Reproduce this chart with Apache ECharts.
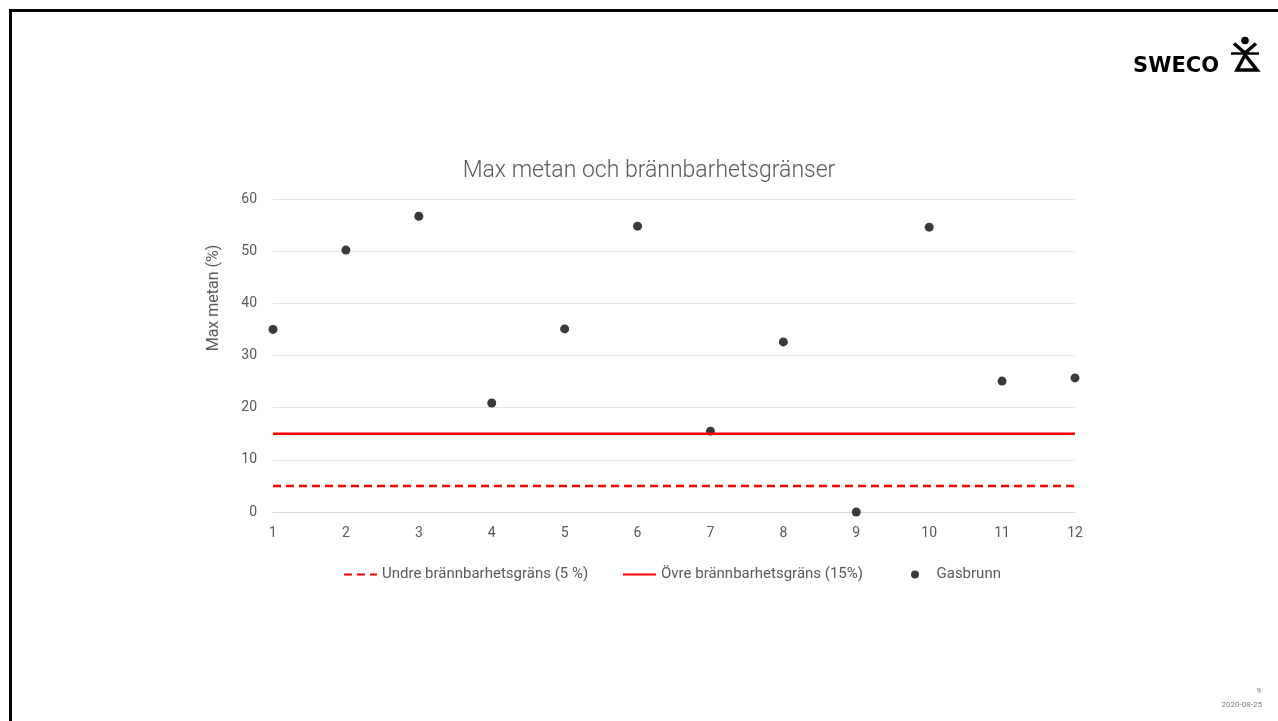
<!DOCTYPE html>
<html>
<head>
<meta charset="utf-8">
<script src="https://cdn.jsdelivr.net/npm/echarts@6/dist/echarts.min.js"></script>
<style>
html,body{margin:0;padding:0;background:#fff;}
#c{width:1278px;height:721px;}
</style>
</head>
<body>
<div id="c"></div>
<script>
const categories = [1,2,3,4,5,6,7,8,9,10,11,12];
const gasbrunn = [35, 50.2, 56.7, 20.9, 35.1, 54.8, 15.5, 32.6, 0, 54.6, 25.1, 25.7];
const undreGrans = 5;
const ovreGrans = 15;
const xTicks = {min: 1, max: 12, interval: 1};
const yTicks = {min: 0, max: 60, interval: 10};
const labels = {
  title: 'Max metan och brännbarhetsgränser',
  yName: 'Max metan (%)',
  undre: 'Undre brännbarhetsgräns (5 %)',
  ovre: 'Övre brännbarhetsgräns (15%)',
  gas: 'Gasbrunn',
  page: '9',
  date: '2020-08-25',
  logo: 'SWECO'
};

const chart = echarts.init(document.getElementById('c'));
const txt = '#595959';
const font = 'Roboto';
const hideSym = {color: 'rgba(0,0,0,0)', borderWidth: 0};
function legendAt(left, item) {
  return {
    left: left, top: 567, padding: 0,
    itemWidth: 33, itemHeight: 8,
    textStyle: {fontFamily: font, fontSize: 15, color: txt},
    data: [item]
  };
}
chart.setOption({
  animation: false,
  backgroundColor: '#fff',
  title: {
    text: labels.title,
    left: 644, top: 155, textAlign: 'center',
    textStyle: {fontFamily: font, fontSize: 23, fontWeight: 300, color: txt}
  },
  grid: {left: 273, right: 203, top: 199, bottom: 209},
  legend: [
    legendAt(343, {name: labels.undre, itemStyle: hideSym}),
    legendAt(622, {name: labels.ovre, itemStyle: hideSym}),
    legendAt(911, {name: labels.gas})
  ],
  xAxis: {
    type: 'value', min: xTicks.min, max: xTicks.max, interval: xTicks.interval,
    axisLine: {show: true, lineStyle: {color: '#d9d9d9'}},
    axisTick: {show: false},
    splitLine: {show: false},
    axisLabel: {color: txt, fontFamily: font, fontSize: 14, margin: 14}
  },
  yAxis: {
    type: 'value', min: yTicks.min, max: yTicks.max, interval: yTicks.interval,
    axisLine: {show: false}, axisTick: {show: false},
    splitLine: {lineStyle: {color: '#e3e3e3', width: 1}},
    axisLabel: {color: txt, fontFamily: font, fontSize: 14, margin: 16}
  },
  graphic: [
    {type: 'rect', shape: {x: 10.5, y: 10.5, width: 1300, height: 800}, style: {fill: 'none', stroke: '#000', lineWidth: 3}, silent: true},
    {type: 'text', x: 214, y: 298, rotation: Math.PI/2,
      style: {text: labels.yName, fontFamily: font, fontSize: 16, fill: txt, textAlign: 'center', textVerticalAlign: 'middle'}},
    {type: 'text', x: 1219, y: 67, style: {text: labels.logo, fontFamily: 'DejaVu Sans', fontWeight: 'bold', fontSize: 21, fill: '#000', textAlign: 'right', textVerticalAlign: 'middle'}},
    {type: 'circle', shape: {cx: 1245, cy: 40.5, r: 3.8}, style: {fill: '#000'}},
    {type: 'polyline', shape: {points: [[1234, 43.5], [1245, 53], [1256, 43.5]]}, style: {stroke: '#000', lineWidth: 3.5, fill: 'none'}},
    {type: 'line', shape: {x1: 1231, y1: 53.5, x2: 1259, y2: 53.5}, style: {stroke: '#000', lineWidth: 2.5}},
    {type: 'polygon', shape: {points: [[1245, 55], [1237, 70], [1257, 70]]}, style: {stroke: '#000', lineWidth: 3.5, fill: 'none', lineJoin: 'miter'}},
    {type: 'text', x: 1261, y: 691, style: {text: labels.page, fontFamily: font, fontSize: 8, fill: '#7f7f7f', textAlign: 'right', textVerticalAlign: 'middle'}},
    {type: 'text', x: 1262, y: 705, style: {text: labels.date, fontFamily: font, fontSize: 8, fill: '#7f7f7f', textAlign: 'right', textVerticalAlign: 'middle'}}
  ],
  series: [
    {
      name: labels.undre, type: 'line', symbol: 'none',
      data: [[categories[0], undreGrans], [categories[categories.length-1], undreGrans]],
      lineStyle: {color: '#ff0000', width: 2.5, type: [8, 5]},
      itemStyle: {color: '#ff0000'}
    },
    {
      name: labels.ovre, type: 'line', symbol: 'none',
      data: [[categories[0], ovreGrans], [categories[categories.length-1], ovreGrans]],
      lineStyle: {color: '#ff0000', width: 2.5},
      itemStyle: {color: '#ff0000'}
    },
    {
      name: labels.gas, type: 'scatter', symbol: 'circle', symbolSize: 9,
      data: categories.map((c, i) => [c, gasbrunn[i]]),
      itemStyle: {color: '#3a3a3a', opacity: 1}
    }
  ]
});
</script>
</body>
</html>
